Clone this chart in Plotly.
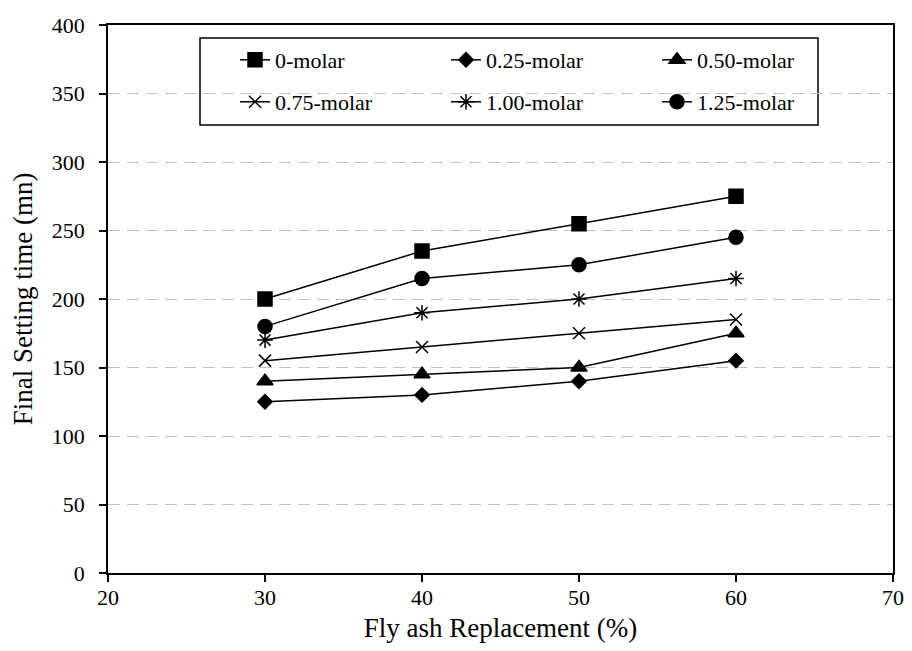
import plotly.graph_objects as go

fly_ash = [30, 40, 50, 60]
series_names = ["0-molar", "0.25-molar", "0.50-molar", "0.75-molar", "1.00-molar", "1.25-molar"]
m0 = [200, 235, 255, 275]
m025 = [125, 130, 140, 155]
m050 = [140, 145, 150, 175]
m075 = [155, 165, 175, 185]
m100 = [170, 190, 200, 215]
m125 = [180, 215, 225, 245]
values = [m0, m025, m050, m075, m100, m125]

symbols = ["square", "diamond", "triangle-up", "x-thin-open", "asterisk-open", "circle"]
sizes = [14, 11, 14, 12, 13, 14]
legends = ["legend", "legend", "legend", "legend2", "legend2", "legend2"]

fig = go.Figure()
for name, vals, sym, sz, lg in zip(series_names, values, symbols, sizes, legends):
    fig.add_trace(go.Scatter(
        x=fly_ash, y=vals, name=name, mode="lines+markers",
        line=dict(color="black", width=1.5),
        marker=dict(symbol=sym, size=sz, color="black",
                    line=dict(color="black", width=1.5)),
        legend=lg,
    ))

font_family = "Liberation Serif"
legend_common = dict(
    orientation="h", xanchor="left", yanchor="middle",
    font=dict(family=font_family, size=22, color="black"),
    bgcolor="rgba(0,0,0,0)", borderwidth=0,
    entrywidth=166, entrywidthmode="pixels",
)

# page body adds an 8px offset; plot area spans x 108..893, y 25..573 in the window
PL, PR, PT, PB = 108, 893, 25, 573
PW, PH = PR - PL, PB - PT

def px(x):
    return (x - PL) / PW

def py(y):
    return (PB - y) / PH

fig.update_layout(
    width=896, height=635,
    margin=dict(l=PL - 8, r=8 + 896 - PR, t=PT - 8, b=8 + 635 - PB, autoexpand=False),
    plot_bgcolor="white", paper_bgcolor="white",
    font=dict(family=font_family, size=22, color="black"),
    showlegend=True,
    legend=dict(x=px(235), y=py(60), **legend_common),
    legend2=dict(x=px(235), y=py(102), **legend_common),
    xaxis=dict(
        range=[20, 70], dtick=10, tick0=20,
        showline=True, linecolor="black", linewidth=1.5, mirror=True,
        ticks="outside", ticklen=7, tickcolor="black", tickwidth=1.5,
        ticklabelstandoff=-3,
        showgrid=False, zeroline=False,
        title=dict(text="Fly ash Replacement (%)", font=dict(family=font_family, size=27), standoff=17),
        tickfont=dict(family=font_family, size=22),
    ),
    yaxis=dict(
        range=[0, 400], dtick=50, tick0=0,
        showline=True, linecolor="black", linewidth=1.5, mirror=True,
        ticks="outside", ticklen=7, tickcolor="black", tickwidth=1.5,
        ticklabelstandoff=10,
        showgrid=True, gridcolor="#c0c0c0", griddash="12px,7px", gridwidth=1.2,
        zeroline=False,
        title=dict(text="Final Setting time (mn)", font=dict(family=font_family, size=27), standoff=15),
        tickfont=dict(family=font_family, size=22),
    ),
    shapes=[dict(type="rect", xref="paper", yref="paper",
                 x0=px(200), x1=px(818), y0=py(125), y1=py(38),
                 line=dict(color="black", width=1.5), fillcolor="white", layer="below")],
)

fig.write_html("out.html")
